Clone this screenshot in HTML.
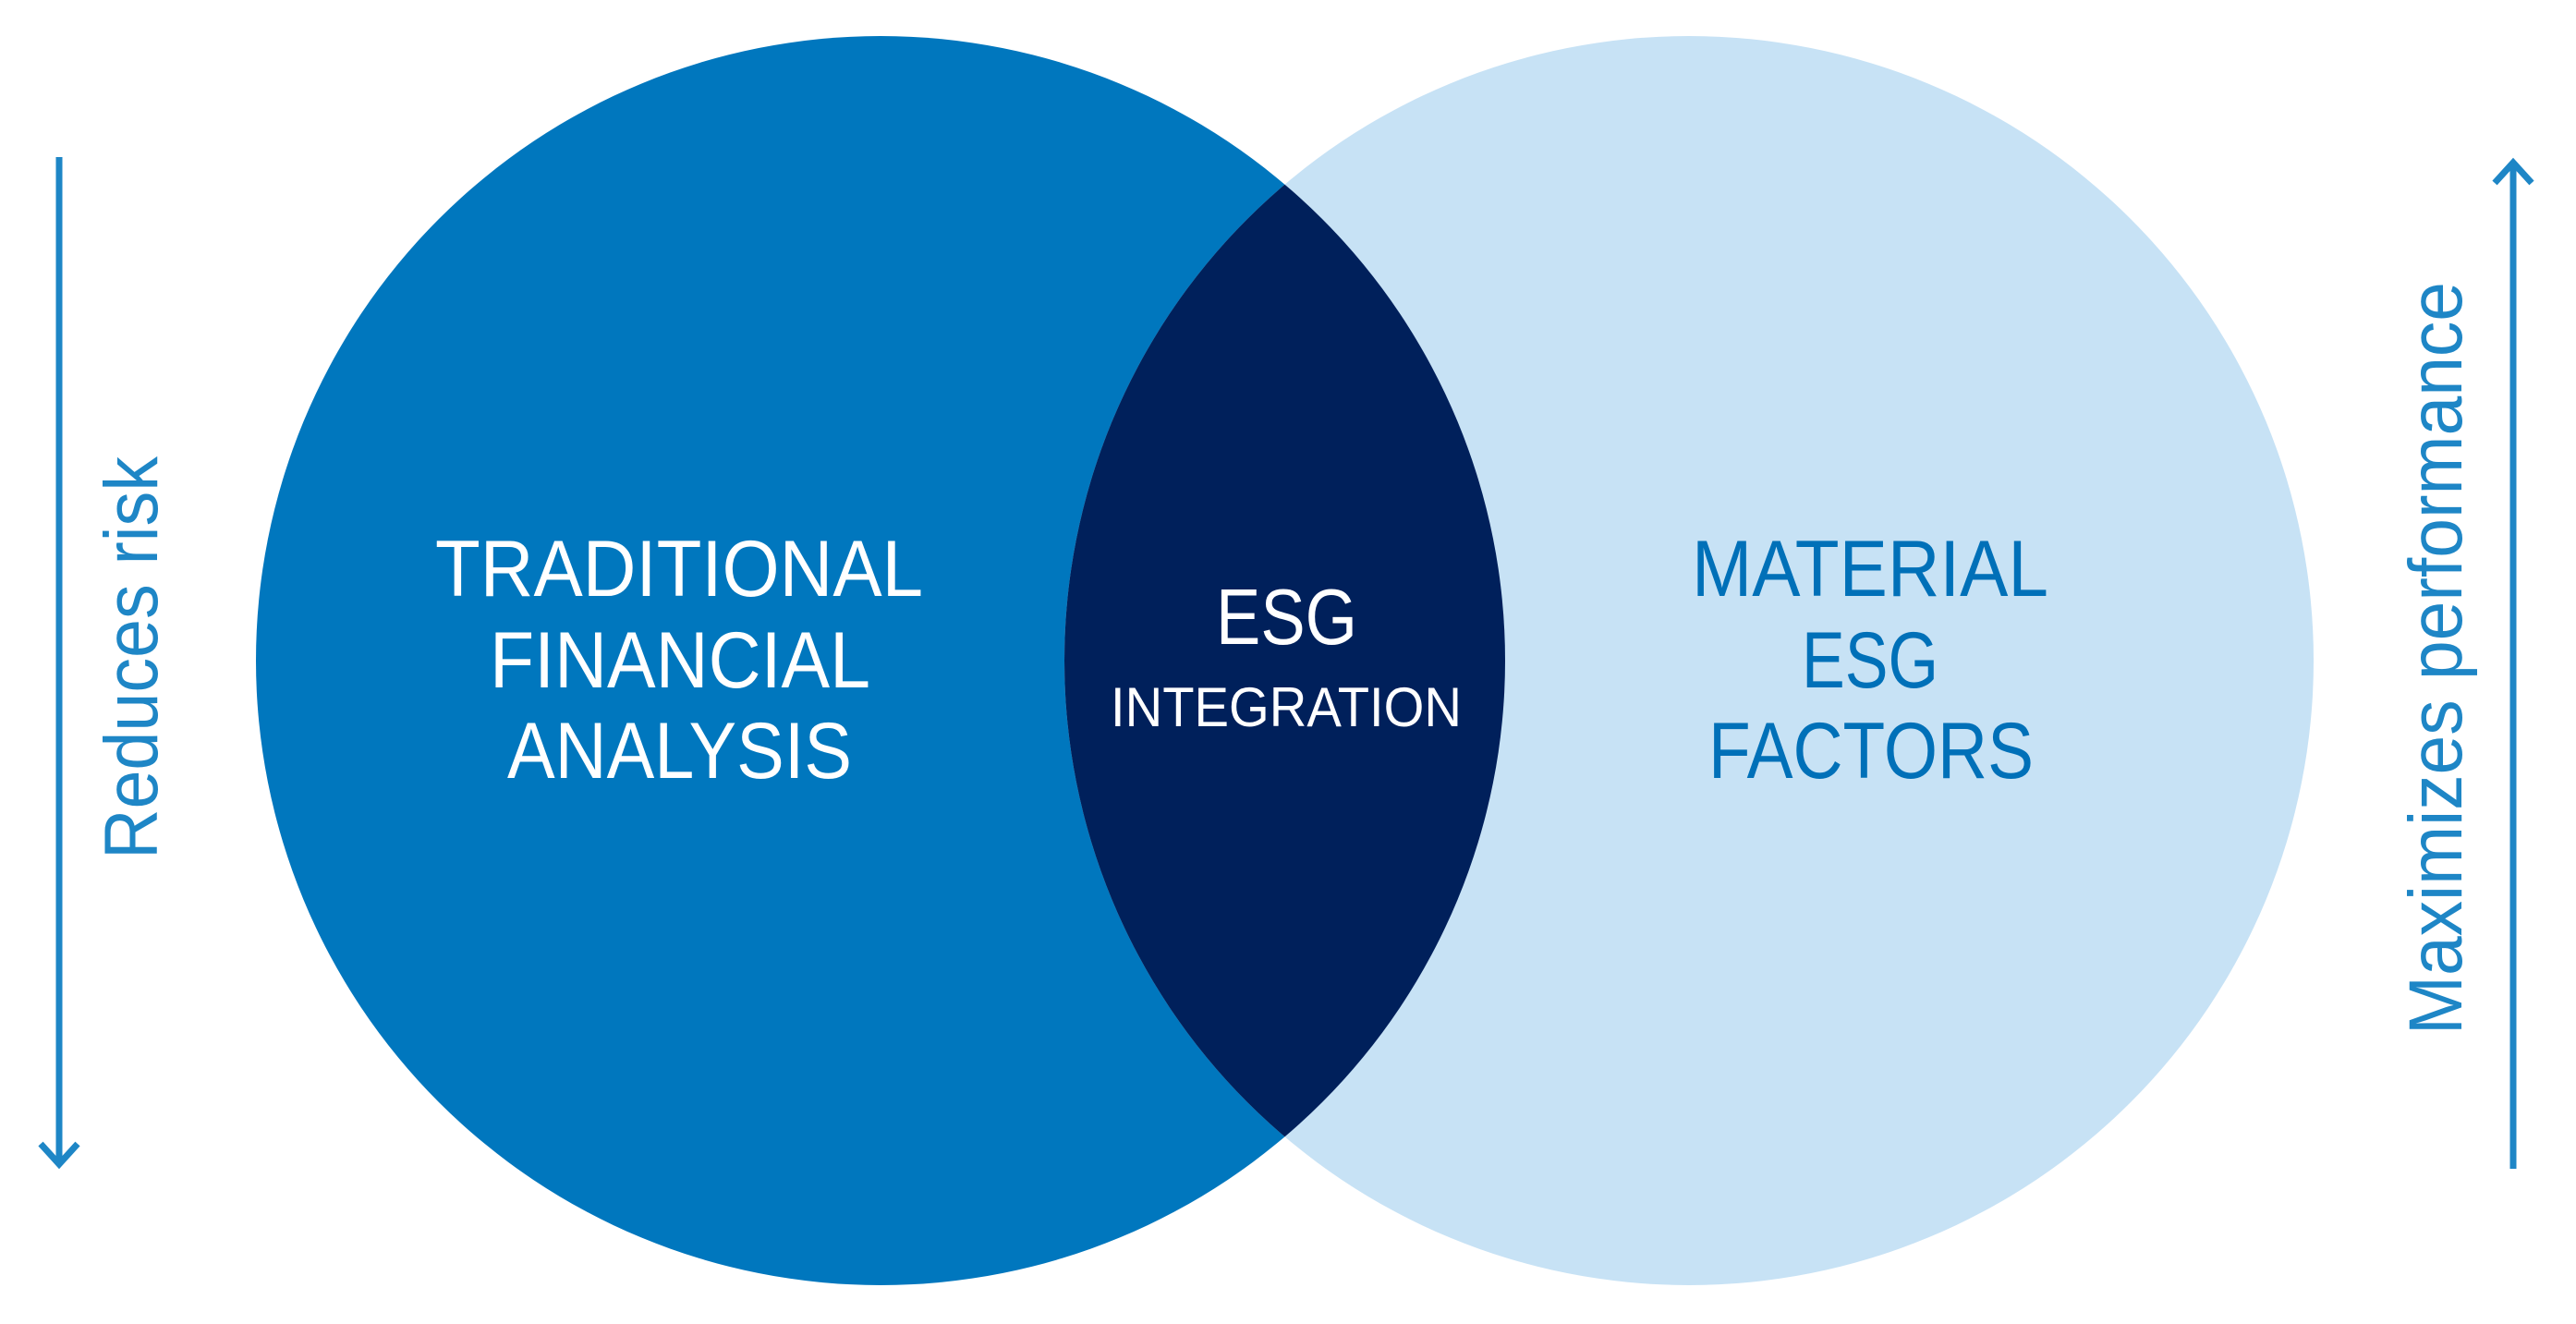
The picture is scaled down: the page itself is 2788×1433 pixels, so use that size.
<!DOCTYPE html>
<html><head><meta charset="utf-8"><style>
html,body{margin:0;padding:0;background:#fff;}
svg{display:block}
text{font-family:"Liberation Sans",sans-serif;}
</style></head><body>
<svg width="2788" height="1433" viewBox="0 0 2788 1433" xmlns="http://www.w3.org/2000/svg">
<defs><clipPath id="c"><circle cx="953" cy="715" r="676"/></clipPath></defs>
<rect width="2788" height="1433" fill="#fff"/>
<circle cx="953" cy="715" r="676" fill="#0077BE"/>
<circle cx="1828" cy="715" r="676" fill="#C7E2F5"/>
<circle cx="1828" cy="715" r="676" fill="#00205B" clip-path="url(#c)"/>
<g fill="#fff" font-size="86">
<text x="471" y="645" textLength="528" lengthAdjust="spacingAndGlyphs">TRADITIONAL</text>
<text x="530" y="744" textLength="412" lengthAdjust="spacingAndGlyphs">FINANCIAL</text>
<text x="549" y="842" textLength="373" lengthAdjust="spacingAndGlyphs">ANALYSIS</text>
<text x="1316" y="697" font-size="85" textLength="153" lengthAdjust="spacingAndGlyphs">ESG</text>
<text x="1202" y="786" font-size="60" textLength="380" lengthAdjust="spacingAndGlyphs">INTEGRATION</text>
</g>
<g fill="#0070B8" font-size="86">
<text x="1831" y="645" textLength="386" lengthAdjust="spacingAndGlyphs">MATERIAL</text>
<text x="1950" y="744" textLength="148" lengthAdjust="spacingAndGlyphs">ESG</text>
<text x="1849" y="842" textLength="352" lengthAdjust="spacingAndGlyphs">FACTORS</text>
</g>
<g stroke="#1E86C6" stroke-width="7" fill="none">
<line x1="64" y1="170" x2="64" y2="1260"/>
<polyline points="44,1238 64,1260 84,1238"/>
<line x1="2720" y1="176" x2="2720" y2="1265"/>
<polyline points="2700,198 2720,176 2740,198"/>
</g>
<g fill="#1E86C6" font-size="82">
<text transform="translate(170,930) rotate(-90)" textLength="436" lengthAdjust="spacingAndGlyphs">Reduces risk</text>
<text transform="translate(2664,1120) rotate(-90)" textLength="815" lengthAdjust="spacingAndGlyphs">Maximizes performance</text>
</g>
</svg>
</body></html>
